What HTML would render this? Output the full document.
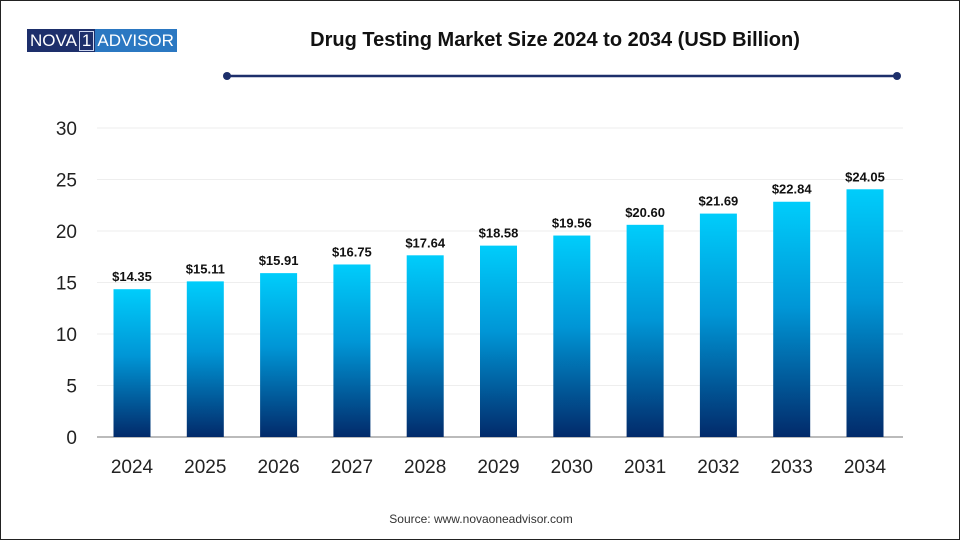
<!DOCTYPE html>
<html><head><meta charset="utf-8"><style>
body{margin:0;background:#fff;}
#c{position:relative;width:958px;height:538px;border:1px solid #222;font-family:"Liberation Sans",sans-serif;overflow:hidden;}
</style></head><body>
<div id="c">
<div style="position:absolute;left:26px;top:28px;height:23px;display:flex;font-size:17px;line-height:23px;color:#fff;">
<span style="background:#1d2f6b;padding:0 1px 0 3px;">NOVA<span style="border:1px solid #cfd8f0;padding:0 2px;margin-left:2px;line-height:18px;display:inline-block;">1</span></span><span style="background:#2b78c2;padding:0 3px 0 2px;">ADVISOR</span>
</div>
<svg id="s" width="958" height="538" style="position:absolute;left:0;top:0"></svg>
</div>
<script>
const categories=["2024","2025","2026","2027","2028","2029","2030","2031","2032","2033","2034"];
const values=[14.35,15.11,15.91,16.75,17.64,18.58,19.56,20.60,21.69,22.84,24.05];
const labels=["$14.35","$15.11","$15.91","$16.75","$17.64","$18.58","$19.56","$20.60","$21.69","$22.84","$24.05"];
const yTicks=[0,5,10,15,20,25,30];
const ns="http://www.w3.org/2000/svg";
const s=document.getElementById('s');
function el(t,a,p){const e=document.createElementNS(ns,t);for(const k in a)e.setAttribute(k,a[k]);(p||s).appendChild(e);return e;}
const y0=436,yMax=30,ppu=(436-127)/30;
const y=v=>y0-v*ppu;
const x=i=>131+i*73.3;
const defs=el('defs',{});
const g=el('linearGradient',{id:'bg',x1:0,y1:0,x2:0,y2:1},defs);
el('stop',{offset:'0','stop-color':'#00cdfb'},g);
el('stop',{offset:'0.45','stop-color':'#0096d6'},g);
el('stop',{offset:'1','stop-color':'#022a6a'},g);
let t=el('text',{x:554,y:45,'text-anchor':'middle','font-size':'20','font-weight':'bold',fill:'#111'});t.textContent="Drug Testing Market Size 2024 to 2034 (USD Billion)";

let l=el('line',{x1:226,y1:75,x2:896,y2:75,stroke:'#1d2f6b','stroke-width':2.5});

el('circle',{cx:226,cy:75,r:4,fill:'#1d2f6b'});el('circle',{cx:896,cy:75,r:4,fill:'#1d2f6b'});
yTicks.forEach(v=>{
 const gl=el('line',{x1:96,x2:902,y1:y(v),y2:y(v),stroke:v==0?'#bbb':'#eee','stroke-width':v==0?2:1});
 
 const tx=el('text',{x:76,y:y(v)+7,'text-anchor':'end','font-size':'19',fill:'#222'});tx.textContent=v;
 
});
categories.forEach((c,i)=>{
 const r=el('rect',{x:x(i)-18.5,y:y(values[i]),width:37,height:y0-y(values[i]),fill:'url(#bg)'});
 
 const lb=el('text',{x:x(i),y:y(values[i])-8,'text-anchor':'middle','font-size':'13','font-weight':'bold',fill:'#111'});lb.textContent=labels[i];
 
 const xt=el('text',{x:x(i),y:472,'text-anchor':'middle','font-size':'19',fill:'#222'});xt.textContent=c;
 
});
const src=el('text',{x:480,y:522,'text-anchor':'middle','font-size':'12',fill:'#333'});src.textContent="Source: www.novaoneadvisor.com";

</script>
</body></html>
